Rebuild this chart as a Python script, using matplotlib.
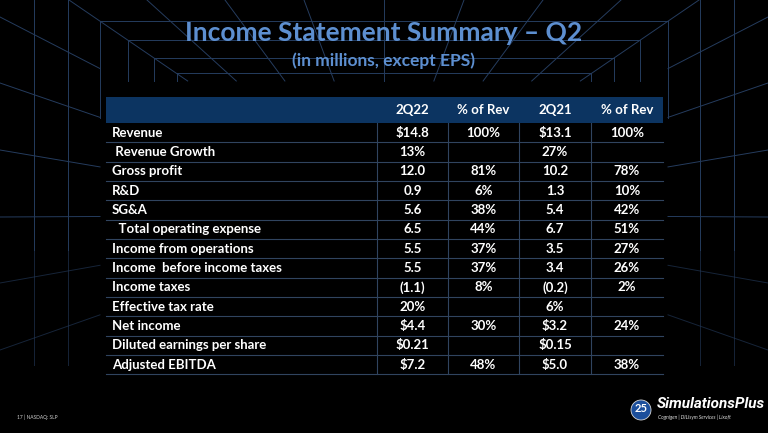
import numpy as np
import matplotlib.pyplot as plt
from matplotlib.patches import Rectangle, Circle

plt.rcParams['font.family'] = ['Lato', 'DejaVu Sans']

# ── table content ───────────────────────────────────────────────────────
columns = ["2Q22", "% of Rev", "2Q21", "% of Rev"]
rows = ["Revenue", " Revenue Growth", "Gross profit", "R&D", "SG&A",
        "  Total operating expense", "Income from operations",
        "Income  before income taxes", "Income taxes", "Effective tax rate",
        "Net income", "Diluted earnings per share", "Adjusted EBITDA"]
q2_22 = ["$14.8", "13%", "12.0", "0.9", "5.6", "6.5", "5.5", "5.5",
         "(1.1)", "20%", "$4.4", "$0.21", "$7.2"]
pct_22 = ["100%", "", "81%", "6%", "38%", "44%", "37%", "37%",
          "8%", "", "30%", "", "48%"]
q2_21 = ["$13.1", "27%", "10.2", "1.3", "5.4", "6.7", "3.5", "3.4",
         "(0.2)", "6%", "$3.2", "$0.15", "$5.0"]
pct_21 = ["100%", "", "78%", "10%", "42%", "51%", "27%", "26%",
          "2%", "", "24%", "", "38%"]

W, H = 768, 433
fig = plt.figure(figsize=(W / 100, H / 100), dpi=100, facecolor="black")
ax = fig.add_axes([0, 0, 1, 1])
ax.set_xlim(0, W)
ax.set_ylim(H, 0)
ax.axis("off")
ax.set_facecolor("black")

# ── perspective grid in the background ──────────────────────────────────
gc = "#253c5e"
vx, vy = 384, 215
scales = [1.0, 0.9, 0.81, 0.73]
for k, s in enumerate(scales):
    x0, x1, yt = vx - 284 * s, vx + 284 * s, vy - 194 * s
    ax.plot([x0, x1], [yt, yt], color=gc, lw=0.7)
    yb = 118 if k == 0 else 81
    ax.plot([x0, x0], [yt, yb], color=gc, lw=0.7)
    ax.plot([x1, x1], [yt, yb], color=gc, lw=0.7)
for x in [34, 68, 700, 734]:
    ax.plot([x, x], [0, 250], color=gc, lw=0.7)
    ax.plot([x, x], [250, 365], color=gc, lw=0.7, alpha=0.6)
# ceiling rays
for xt in [69, 147, 225, 304, 384, 464, 543, 621, 699]:
    f = (vy - 81) / vy
    ax.plot([xt, vx + (xt - vx) * f], [0, 81], color=gc, lw=0.7)
# wall rays, dimmer towards the floor
for y0 in [17, 83, 150, 217, 283, 350]:
    f = 100 / vx
    a = 1.0 if y0 < 250 else 0.6
    ax.plot([0, 100], [y0, y0 + (vy - y0) * f], color=gc, lw=0.7, alpha=a)
    ax.plot([W, 668], [y0, y0 + (vy - y0) * f], color=gc, lw=0.7, alpha=a)

# ── title ───────────────────────────────────────────────────────────────
tc = "#5d8fd0"
ax.text(384, 33, "Income Statement Summary – Q2", color=tc, fontsize=19,
        fontweight="bold", ha="center", va="center", zorder=5)
ax.text(384, 61, "(in millions, except EPS)", color=tc, fontsize=12.5,
        fontweight="bold", ha="center", va="center", zorder=5)

# ── table ───────────────────────────────────────────────────────────────
left, right = 106, 663
col_edges = [377, 448, 519, 591, 663]
top, head_h, row_h = 97, 26, 19.33
body_top = top + head_h
n = len(rows)
bottom = body_top + n * row_h

ax.add_patch(Rectangle((left - 1, top), right - left + 2, bottom - top + 1,
                       facecolor="black", edgecolor="none", zorder=2))
ax.add_patch(Rectangle((left, top), right - left, head_h,
                       facecolor="#0c3461", edgecolor="none", zorder=3))
lc = "#30445f"
for i in range(1, n + 1):
    y = body_top + i * row_h
    ax.plot([left, right], [y, y], color=lc, lw=0.8, zorder=3)
for x in col_edges[:-1]:
    ax.plot([x, x], [body_top, bottom], color=lc, lw=0.8, zorder=3)

centers = [(a + b) / 2 for a, b in zip(col_edges[:-1], col_edges[1:])]
txt = dict(color="white", fontsize=9.5, fontweight="bold", va="center", zorder=4)
for c, name in zip(centers, columns):
    ax.text(c, top + head_h / 2, name, ha="center", **txt)
for i, label in enumerate(rows):
    y = body_top + (i + 0.5) * row_h
    ax.text(112, y, label, ha="left", **txt)
    for c, vals in zip(centers, [q2_22, pct_22, q2_21, pct_21]):
        ax.text(c, y, vals[i], ha="center", **txt)

# ── footer and logo ─────────────────────────────────────────────────────
ax.text(17, 417, "17 | NASDAQ: SLP", color="#cfcfcf", fontsize=3.5, va="center")
ax.add_patch(Circle((641, 410), 10, facecolor="#1c4f9c", edgecolor="#d9d9d9",
                    lw=0.6, zorder=4))
ax.text(641, 409, "25", color="white", fontsize=8, fontweight="bold",
        ha="center", va="center", zorder=5)
ax.text(657, 404, "SimulationsPlus", color="white", fontsize=11,
        fontstyle="italic", fontweight="bold", ha="left", va="center",
        family=["Roboto", "DejaVu Sans"])
ax.text(658, 417, "Cognigen | DILIsym Services | Lixoft", color="#dddddd",
        fontsize=3.6, fontstyle="italic", ha="left", va="center")

fig.savefig("out.png", dpi=100, facecolor="black")
